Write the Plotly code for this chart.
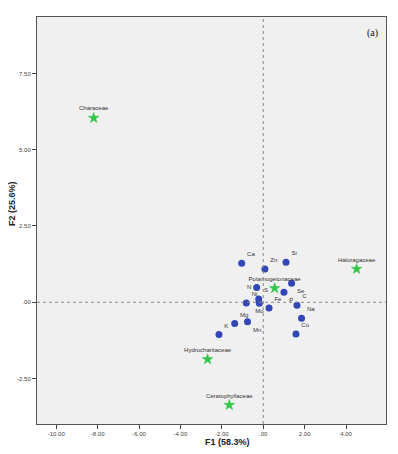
import plotly.graph_objects as go

# Element loadings (blue dots)
elem_names = ["Ca", "Zn", "Si", "N", "Se", "P", "S", "Ni", "Mo", "Fe", "C", "Na", "Cu", "Mg", "Mn", "K"]
elem_x = [-1.04, 0.08, 1.10, -0.32, 1.37, 1.00, -0.22, -0.82, -0.19, 0.28, 1.63, 1.85, 1.58, -1.38, -0.76, -2.14]
elem_y = [1.28, 1.09, 1.31, 0.48, 0.62, 0.33, 0.11, -0.02, -0.03, -0.19, -0.10, -0.52, -1.04, -0.70, -0.64, -1.06]
elem_pos = ["top right", "top right", "top right", "middle left", "bottom right", "bottom right",
            "top right", "top right", "bottom center", "top right", "top right", "top right",
            "top right", "top right", "bottom right", "top right"]

# Families (green stars)
fam_names = ["Characeae", "Potamogetonaceae", "Haloragaceae", "Hydrocharitaceae", "Ceratophyllaceae"]
fam_x = [-8.19, 0.55, 4.51, -2.69, -1.64]
fam_y = [6.04, 0.46, 1.09, -1.87, -3.37]

x_ticks = [-10, -8, -6, -4, -2, 0, 2, 4]
x_ticktext = ["-10.00", "-8.00", "-6.00", "-4.00", "-2.00", ".00", "2.00", "4.00"]
y_ticks = [-2.5, 0, 2.5, 5, 7.5]
y_ticktext = ["-2.50", ".00", "2.50", "5.00", "7.50"]

fig = go.Figure()
fig.add_trace(go.Scatter(
    x=elem_x, y=elem_y, mode="markers+text", text=elem_names, textposition=elem_pos,
    marker=dict(color="#3346b5", size=7),
    textfont=dict(size=6, color="#333333", family="Liberation Sans"),
    cliponaxis=False, hoverinfo="skip"))
fig.add_trace(go.Scatter(
    x=fam_x, y=fam_y, mode="markers+text", text=fam_names, textposition="top center",
    marker=dict(color="#33c44a", size=8, symbol="star", line=dict(color="#33c44a", width=0.5)),
    textfont=dict(size=6, color="#333333", family="Liberation Sans"),
    cliponaxis=False, hoverinfo="skip"))

fig.add_shape(type="line", x0=0, x1=0, y0=0, y1=1, xref="x", yref="paper",
              line=dict(color="#888888", width=1, dash="dot"))
fig.add_shape(type="line", x0=0, x1=1, y0=0, y1=0, xref="paper", yref="y",
              line=dict(color="#888888", width=1, dash="dot"))

axis_common = dict(showgrid=False, zeroline=False, ticks="outside", ticklen=4,
                   tickcolor="#444444", linecolor="#555555", linewidth=1, mirror=True,
                   showline=True, automargin=False,
                   tickfont=dict(size=6, color="#444444", family="Liberation Sans"))
fig.update_xaxes(range=[-10.93, 5.93], tickvals=x_ticks, ticktext=x_ticktext, **axis_common)
fig.update_yaxes(range=[-3.99, 9.35], tickvals=y_ticks, ticktext=y_ticktext, **axis_common)

# page body has an 8px margin, so the figure is 8px smaller and shifted
fig.update_layout(
    width=390, height=446,
    margin=dict(l=29, r=12, t=9, b=30, autoexpand=False),
    plot_bgcolor="#f0f0f0", paper_bgcolor="white",
    showlegend=False,
)
fig.add_annotation(text="<b>F1 (58.3%)</b>", x=(227 - 37) / 349, y=-(442 - 424) / 407,
                   xref="paper", yref="paper", showarrow=False,
                   xanchor="center", yanchor="middle",
                   font=dict(size=9, color="#222222", family="Liberation Sans"))
fig.add_annotation(text="<b>F2 (25.6%)</b>", x=-(37 - 12) / 349, y=(424 - 204) / 407,
                   xref="paper", yref="paper", showarrow=False, textangle=-90,
                   xanchor="center", yanchor="middle",
                   font=dict(size=9, color="#222222", family="Liberation Sans"))
fig.add_annotation(text="(a)", x=(372 - 37) / 349, y=(424 - 33) / 407,
                   xref="paper", yref="paper", showarrow=False,
                   xanchor="center", yanchor="middle",
                   font=dict(size=10, color="#111111", family="Liberation Serif"))

fig.write_html("out.html")
